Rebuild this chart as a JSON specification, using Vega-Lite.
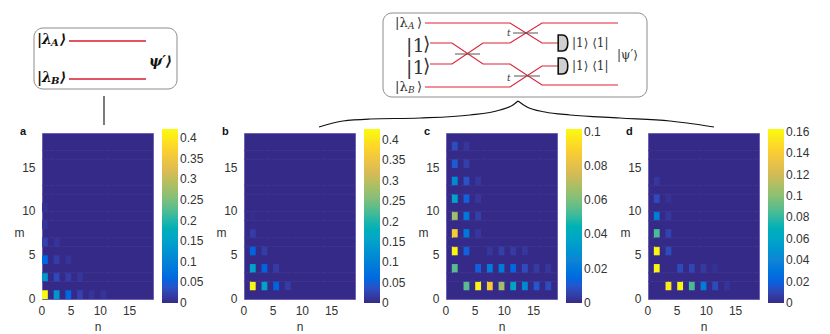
{
"$schema":"https://vega.github.io/schema/vega-lite/v6.json",
"padding":0,
"background":"white",
"bounds":"flush",
"spacing":0,
"datasets":{
"seams":[{"m":2},{"m":3},{"m":6},{"m":7},{"m":9},{"m":10},{"m":12},{"m":13},{"m":16},{"m":17}],
"a":[{"n":0,"m":0,"v":0.42},{"n":2,"m":0,"v":0.13},{"n":4,"m":0,"v":0.06},{"n":6,"m":0,"v":0.022},{"n":8,"m":0,"v":0.01},{"n":10,"m":0,"v":0.01},{"n":0,"m":2,"v":0.13},{"n":2,"m":2,"v":0.03},{"n":4,"m":2,"v":0.018},{"n":6,"m":2,"v":0.012},{"n":0,"m":4,"v":0.06},{"n":2,"m":4,"v":0.018},{"n":4,"m":4,"v":0.01},{"n":0,"m":6,"v":0.022},{"n":2,"m":6,"v":0.01},{"n":0,"m":8,"v":0.01},{"n":0,"m":10,"v":0.006}],
"b":[{"n":1,"m":1,"v":0.42},{"n":3,"m":1,"v":0.15},{"n":5,"m":1,"v":0.055},{"n":7,"m":1,"v":0.018},{"n":1,"m":3,"v":0.15},{"n":3,"m":3,"v":0.055},{"n":5,"m":3,"v":0.018},{"n":1,"m":5,"v":0.055},{"n":3,"m":5,"v":0.018},{"n":1,"m":7,"v":0.018},{"n":1,"m":9,"v":0.004}],
"c":[{"n":1,"m":3,"v":0.055},{"n":1,"m":5,"v":0.1},{"n":1,"m":7,"v":0.087},{"n":1,"m":9,"v":0.066},{"n":1,"m":11,"v":0.037},{"n":1,"m":13,"v":0.027},{"n":1,"m":15,"v":0.011},{"n":1,"m":17,"v":0.008},{"n":3,"m":1,"v":0.055},{"n":3,"m":5,"v":0.012},{"n":3,"m":7,"v":0.02},{"n":3,"m":9,"v":0.02},{"n":3,"m":11,"v":0.012},{"n":3,"m":13,"v":0.009},{"n":3,"m":15,"v":0.005},{"n":3,"m":17,"v":0.003},{"n":5,"m":1,"v":0.1},{"n":5,"m":3,"v":0.012},{"n":5,"m":7,"v":0.003},{"n":5,"m":9,"v":0.005},{"n":5,"m":11,"v":0.003},{"n":5,"m":13,"v":0.003},{"n":7,"m":1,"v":0.087},{"n":7,"m":3,"v":0.022},{"n":7,"m":5,"v":0.003},{"n":9,"m":1,"v":0.066},{"n":9,"m":3,"v":0.021},{"n":9,"m":5,"v":0.005},{"n":11,"m":1,"v":0.037},{"n":11,"m":3,"v":0.014},{"n":11,"m":5,"v":0.004},{"n":13,"m":1,"v":0.027},{"n":13,"m":3,"v":0.008},{"n":13,"m":5,"v":0.003},{"n":15,"m":1,"v":0.01},{"n":15,"m":3,"v":0.004},{"n":17,"m":1,"v":0.008},{"n":17,"m":3,"v":0.003}],
"d":[{"n":1,"m":3,"v":0.16},{"n":1,"m":5,"v":0.16},{"n":1,"m":7,"v":0.085},{"n":1,"m":9,"v":0.035},{"n":1,"m":11,"v":0.012},{"n":1,"m":13,"v":0.005},{"n":3,"m":1,"v":0.155},{"n":3,"m":5,"v":0.012},{"n":3,"m":7,"v":0.009},{"n":3,"m":9,"v":0.005},{"n":3,"m":11,"v":0.003},{"n":5,"m":1,"v":0.16},{"n":5,"m":3,"v":0.012},{"n":7,"m":1,"v":0.085},{"n":7,"m":3,"v":0.01},{"n":9,"m":1,"v":0.035},{"n":9,"m":3,"v":0.006},{"n":11,"m":1,"v":0.012},{"n":11,"m":3,"v":0.003},{"n":13,"m":1,"v":0.004}]
},
"vconcat":[
{
"width":788,"height":133,
"view":{"fill":null,"stroke":null},
"layer":[
{"data":{"values":[{"x":0,"x2":830,"y":0,"y2":334}]},"mark":{"type":"rect","fill":"transparent","clip":false},
 "encoding":{"x":{"field":"x","type":"quantitative","scale":{"domain":[42,830],"nice":false,"zero":false},"axis":null},"x2":{"field":"x2"},"y":{"field":"y","type":"quantitative","scale":{"domain":[133,0],"nice":false,"zero":false},"axis":null},"y2":{"field":"y2"}}},
{"data":{"values":[{"x":34,"x2":177,"y":28,"y2":89},{"x":383,"x2":647,"y":13,"y2":97}]},"mark":{"type":"rect","fill":"white","stroke":"#8c8c8c","strokeWidth":1,"cornerRadius":9},
 "encoding":{"x":{"field":"x","type":"quantitative"},"x2":{"field":"x2"},"y":{"field":"y","type":"quantitative"},"y2":{"field":"y2"}}},
{"data":{"values":[
 {"s":"L1","i":0,"x":69,"y":41},{"s":"L1","i":1,"x":146,"y":41},
 {"s":"L2","i":0,"x":69,"y":79},{"s":"L2","i":1,"x":146,"y":79}
 ]},"mark":{"type":"line","stroke":"#d81e30","strokeWidth":1.6,"clip":false},
 "encoding":{"x":{"field":"x","type":"quantitative"},"y":{"field":"y","type":"quantitative"},"detail":{"field":"s"},"order":{"field":"i"}}},
{"data":{"values":[
 {"s":"A","i":0,"x":425,"y":23},{"s":"A","i":1,"x":510,"y":23},{"s":"A","i":2,"x":542,"y":43},{"s":"A","i":3,"x":558,"y":43},
 {"s":"P","i":0,"x":430,"y":43},{"s":"P","i":1,"x":452,"y":43},{"s":"P","i":2,"x":483,"y":64},{"s":"P","i":3,"x":510,"y":64},{"s":"P","i":4,"x":542,"y":85},{"s":"P","i":5,"x":618,"y":85},
 {"s":"Q","i":0,"x":430,"y":64},{"s":"Q","i":1,"x":452,"y":64},{"s":"Q","i":2,"x":483,"y":43},{"s":"Q","i":3,"x":510,"y":43},{"s":"Q","i":4,"x":542,"y":23},{"s":"Q","i":5,"x":618,"y":23},
 {"s":"B","i":0,"x":425,"y":87},{"s":"B","i":1,"x":510,"y":87},{"s":"B","i":2,"x":542,"y":66},{"s":"B","i":3,"x":558,"y":66}
 ]},"mark":{"type":"line","stroke":"#dc2236","strokeWidth":1.2,"clip":false},
 "encoding":{"x":{"field":"x","type":"quantitative"},"y":{"field":"y","type":"quantitative"},"detail":{"field":"s"},"order":{"field":"i"}}},
{"data":{"values":[{"x":455,"x2":480,"y":54},{"x":513,"x2":538,"y":33},{"x":514,"x2":540,"y":76}]},"mark":{"type":"rule","stroke":"#555555","strokeWidth":1},
 "encoding":{"x":{"field":"x","type":"quantitative"},"x2":{"field":"x2"},"y":{"field":"y","type":"quantitative"}}},
{"data":{"values":[{"x":104,"y":96,"y2":125}]},"mark":{"type":"rule","stroke":"#444444","strokeWidth":1.4},
 "encoding":{"x":{"field":"x","type":"quantitative"},"y":{"field":"y","type":"quantitative"},"y2":{"field":"y2"}}},
{"data":{"values":[
 {"s":"l","i":0,"x":319,"y":127},{"s":"l","i":1,"x":343,"y":121},{"s":"l","i":2,"x":370,"y":119},{"s":"l","i":3,"x":420,"y":118},{"s":"l","i":4,"x":470,"y":115},{"s":"l","i":5,"x":500,"y":110},{"s":"l","i":6,"x":513,"y":105},{"s":"l","i":7,"x":518,"y":101},
 {"s":"r","i":0,"x":518,"y":101},{"s":"r","i":1,"x":527,"y":107},{"s":"r","i":2,"x":545,"y":112},{"s":"r","i":3,"x":570,"y":115},{"s":"r","i":4,"x":620,"y":118},{"s":"r","i":5,"x":670,"y":121},{"s":"r","i":6,"x":687,"y":123},{"s":"r","i":7,"x":714,"y":127}
 ]},"mark":{"type":"line","stroke":"#111111","strokeWidth":1.2,"interpolate":"monotone"},
 "encoding":{"x":{"field":"x","type":"quantitative"},"y":{"field":"y","type":"quantitative"},"detail":{"field":"s"},"order":{"field":"i"}}},
{"data":{"values":[{"x":563,"y":43},{"x":563,"y":66}]},"mark":{"type":"point","filled":true,"fill":"#cfcfcf","stroke":"#111111","strokeWidth":1.6,"opacity":1,"size":256,"shape":"M-0.6,-1 L-0.1,-1 C0.4,-1 0.6,-0.5 0.6,0 C0.6,0.5 0.4,1 -0.1,1 L-0.6,1 Z"},
 "encoding":{"x":{"field":"x","type":"quantitative"},"y":{"field":"y","type":"quantitative"}}},
{"data":{"values":[{"t":"|λ","x":37,"y":40},{"t":"⟩","x":60,"y":40},{"t":"|λ","x":37,"y":78},{"t":"⟩","x":60,"y":78},{"t":"ψ′⟩","x":149,"y":62}]},
 "mark":{"type":"text","font":"DejaVu Serif","fontSize":14,"fontWeight":"bold","fontStyle":"italic","align":"left","baseline":"middle","color":"#111111"},
 "encoding":{"x":{"field":"x","type":"quantitative"},"y":{"field":"y","type":"quantitative"},"text":{"field":"t"}}},
{"data":{"values":[{"t":"A","x":51,"y":43},{"t":"B","x":51,"y":81}]},
 "mark":{"type":"text","font":"DejaVu Serif","fontSize":10,"fontWeight":"bold","fontStyle":"italic","align":"left","baseline":"middle","color":"#111111"},
 "encoding":{"x":{"field":"x","type":"quantitative"},"y":{"field":"y","type":"quantitative"},"text":{"field":"t"}}},
{"data":{"values":[{"t":"|λ","x":395,"y":23},{"t":"⟩","x":417,"y":23},{"t":"|λ","x":395,"y":87},{"t":"⟩","x":417,"y":87}]},
 "mark":{"type":"text","font":"DejaVu Serif","fontSize":13,"align":"left","baseline":"middle","color":"#333333"},
 "encoding":{"x":{"field":"x","type":"quantitative"},"y":{"field":"y","type":"quantitative"},"text":{"field":"t"}}},
{"data":{"values":[{"t":"|1⟩ ⟨1|","x":572,"y":43},{"t":"|1⟩ ⟨1|","x":572,"y":66},{"t":"|ψ′⟩","x":617,"y":55}]},
 "mark":{"type":"text","font":"DejaVu Serif","fontSize":12,"align":"left","baseline":"middle","color":"#333333"},
 "encoding":{"x":{"field":"x","type":"quantitative"},"y":{"field":"y","type":"quantitative"},"text":{"field":"t"}}},
{"data":{"values":[{"t":"A","x":408,"y":26},{"t":"B","x":408,"y":90},{"t":"t","x":507,"y":33},{"t":"t","x":507,"y":78}]},
 "mark":{"type":"text","font":"DejaVu Serif","fontSize":9,"fontStyle":"italic","align":"left","baseline":"middle","color":"#333333"},
 "encoding":{"x":{"field":"x","type":"quantitative"},"y":{"field":"y","type":"quantitative"},"text":{"field":"t"}}},
{"data":{"values":[{"t":"|1","x":406,"y":46},{"t":"⟩","x":423,"y":44},{"t":"|1","x":406,"y":68},{"t":"⟩","x":423,"y":66}]},
 "mark":{"type":"text","font":"DejaVu Serif","fontSize":19,"align":"left","baseline":"middle","color":"#333333"},
 "encoding":{"x":{"field":"x","type":"quantitative"},"y":{"field":"y","type":"quantitative"},"text":{"field":"t"}}}
]
},
{
"bounds":"flush","spacing":91,
"resolve":{"scale":{"color":"independent"}},
"hconcat":[
{"width":111,"height":166,"view":{"fill":"#352a87","stroke":"#6a63b4"},"title":{"text":"a"},
 "layer":[
 {"data":{"name":"a"},"mark":{"type":"rect"},"encoding":{
  "x":{"field":"n","type":"ordinal","title":"n","scale":{"domain":[0,1,2,3,4,5,6,7,8,9,10,11,12,13,14,15,16,17,18],"paddingInner":0,"paddingOuter":0},"axis":{"values":[0,5,10,15]}},
  "y":{"field":"m","type":"ordinal","title":"m","scale":{"domain":[18,17,16,15,14,13,12,11,10,9,8,7,6,5,4,3,2,1,0],"paddingInner":0,"paddingOuter":0},"axis":{"values":[0,5,10,15]}},
  "color":{"field":"v","type":"quantitative","scale":{"domain":[0,0.422],"range":["#352a87","#0363e1","#1485d4","#06a7c6","#38b99e","#92bf73","#d9ba56","#fcce2e","#f9fb0e"]},"legend":{"values":[0,0.05,0.1,0.15,0.2,0.25,0.3,0.35,0.4],"labelExpr":"datum.value","encode":{"labels":{"update":{"baseline":{"value":"middle"}}}}}}}},
 {"data":{"name":"seams"},"mark":{"type":"rule","stroke":"#41388f","strokeWidth":0.8,"strokeDash":[6,1]},"encoding":{"y":{"field":"m","type":"ordinal","bandPosition":1}}}
 ]},
{"width":111,"height":166,"view":{"fill":"#352a87","stroke":"#6a63b4"},"title":{"text":"b"},
 "layer":[
 {"data":{"name":"b"},"mark":{"type":"rect"},"encoding":{
  "x":{"field":"n","type":"ordinal","title":"n","scale":{"domain":[0,1,2,3,4,5,6,7,8,9,10,11,12,13,14,15,16,17,18],"paddingInner":0,"paddingOuter":0},"axis":{"values":[0,5,10,15]}},
  "y":{"field":"m","type":"ordinal","title":"m","scale":{"domain":[18,17,16,15,14,13,12,11,10,9,8,7,6,5,4,3,2,1,0],"paddingInner":0,"paddingOuter":0},"axis":{"values":[0,5,10,15]}},
  "color":{"field":"v","type":"quantitative","scale":{"domain":[0,0.427],"range":["#352a87","#0363e1","#1485d4","#06a7c6","#38b99e","#92bf73","#d9ba56","#fcce2e","#f9fb0e"]},"legend":{"values":[0,0.05,0.1,0.15,0.2,0.25,0.3,0.35,0.4],"labelExpr":"datum.value","encode":{"labels":{"update":{"baseline":{"value":"middle"}}}}}}}},
 {"data":{"name":"seams"},"mark":{"type":"rule","stroke":"#41388f","strokeWidth":0.8,"strokeDash":[6,1]},"encoding":{"y":{"field":"m","type":"ordinal","bandPosition":1}}}
 ]},
{"width":111,"height":166,"view":{"fill":"#352a87","stroke":"#6a63b4"},"title":{"text":"c"},
 "layer":[
 {"data":{"name":"c"},"mark":{"type":"rect"},"encoding":{
  "x":{"field":"n","type":"ordinal","title":"n","scale":{"domain":[0,1,2,3,4,5,6,7,8,9,10,11,12,13,14,15,16,17,18],"paddingInner":0,"paddingOuter":0},"axis":{"values":[0,5,10,15]}},
  "y":{"field":"m","type":"ordinal","title":"m","scale":{"domain":[18,17,16,15,14,13,12,11,10,9,8,7,6,5,4,3,2,1,0],"paddingInner":0,"paddingOuter":0},"axis":{"values":[0,5,10,15]}},
  "color":{"field":"v","type":"quantitative","scale":{"domain":[0,0.1016],"range":["#352a87","#0363e1","#1485d4","#06a7c6","#38b99e","#92bf73","#d9ba56","#fcce2e","#f9fb0e"]},"legend":{"values":[0,0.02,0.04,0.06,0.08,0.1],"labelExpr":"datum.value","encode":{"labels":{"update":{"baseline":{"value":"middle"}}}}}}}},
 {"data":{"name":"seams"},"mark":{"type":"rule","stroke":"#41388f","strokeWidth":0.8,"strokeDash":[6,1]},"encoding":{"y":{"field":"m","type":"ordinal","bandPosition":1}}}
 ]},
{"width":111,"height":166,"view":{"fill":"#352a87","stroke":"#6a63b4"},"title":{"text":"d"},
 "layer":[
 {"data":{"name":"d"},"mark":{"type":"rect"},"encoding":{
  "x":{"field":"n","type":"ordinal","title":"n","scale":{"domain":[0,1,2,3,4,5,6,7,8,9,10,11,12,13,14,15,16,17,18],"paddingInner":0,"paddingOuter":0},"axis":{"values":[0,5,10,15]}},
  "y":{"field":"m","type":"ordinal","title":"m","scale":{"domain":[18,17,16,15,14,13,12,11,10,9,8,7,6,5,4,3,2,1,0],"paddingInner":0,"paddingOuter":0},"axis":{"values":[0,5,10,15]}},
  "color":{"field":"v","type":"quantitative","scale":{"domain":[0,0.1625],"range":["#352a87","#0363e1","#1485d4","#06a7c6","#38b99e","#92bf73","#d9ba56","#fcce2e","#f9fb0e"]},"legend":{"values":[0,0.02,0.04,0.06,0.08,0.1,0.12,0.14,0.16],"labelExpr":"datum.value","encode":{"labels":{"update":{"baseline":{"value":"middle"}}}}}}}},
 {"data":{"name":"seams"},"mark":{"type":"rule","stroke":"#41388f","strokeWidth":0.8,"strokeDash":[6,1]},"encoding":{"y":{"field":"m","type":"ordinal","bandPosition":1}}}
 ]}
]
}
],
"config":{
"font":"Liberation Sans",
"title":{"anchor":"start","frame":"group","font":"Liberation Sans","fontSize":11,"fontWeight":"bold","color":"#111111","dx":-22,"dy":12,"offset":0},
"axis":{"ticks":false,"domain":false,"grid":false,"labelAngle":0,"labelFont":"Liberation Sans","labelFontSize":12,"labelColor":"#333333","titleFont":"Liberation Sans","titleFontSize":12,"titleFontWeight":"normal","titleColor":"#333333"},
"axisX":{"labelPadding":6,"labelOffset":-3,"titleY":27,"titleBaseline":"middle"},
"axisY":{"labelPadding":7,"labelOffset":4,"titleAngle":0,"titleX":-23,"titleY":99,"titleAlign":"center","titleBaseline":"middle"},
"legend":{"orient":"none","legendX":120,"legendY":-4,"title":null,"gradientLength":174,"gradientThickness":16,"labelFont":"Liberation Sans","labelFontSize":12,"labelColor":"#333333","labelOffset":4,"labelOverlap":false,"gradientStrokeWidth":0}
}
}
